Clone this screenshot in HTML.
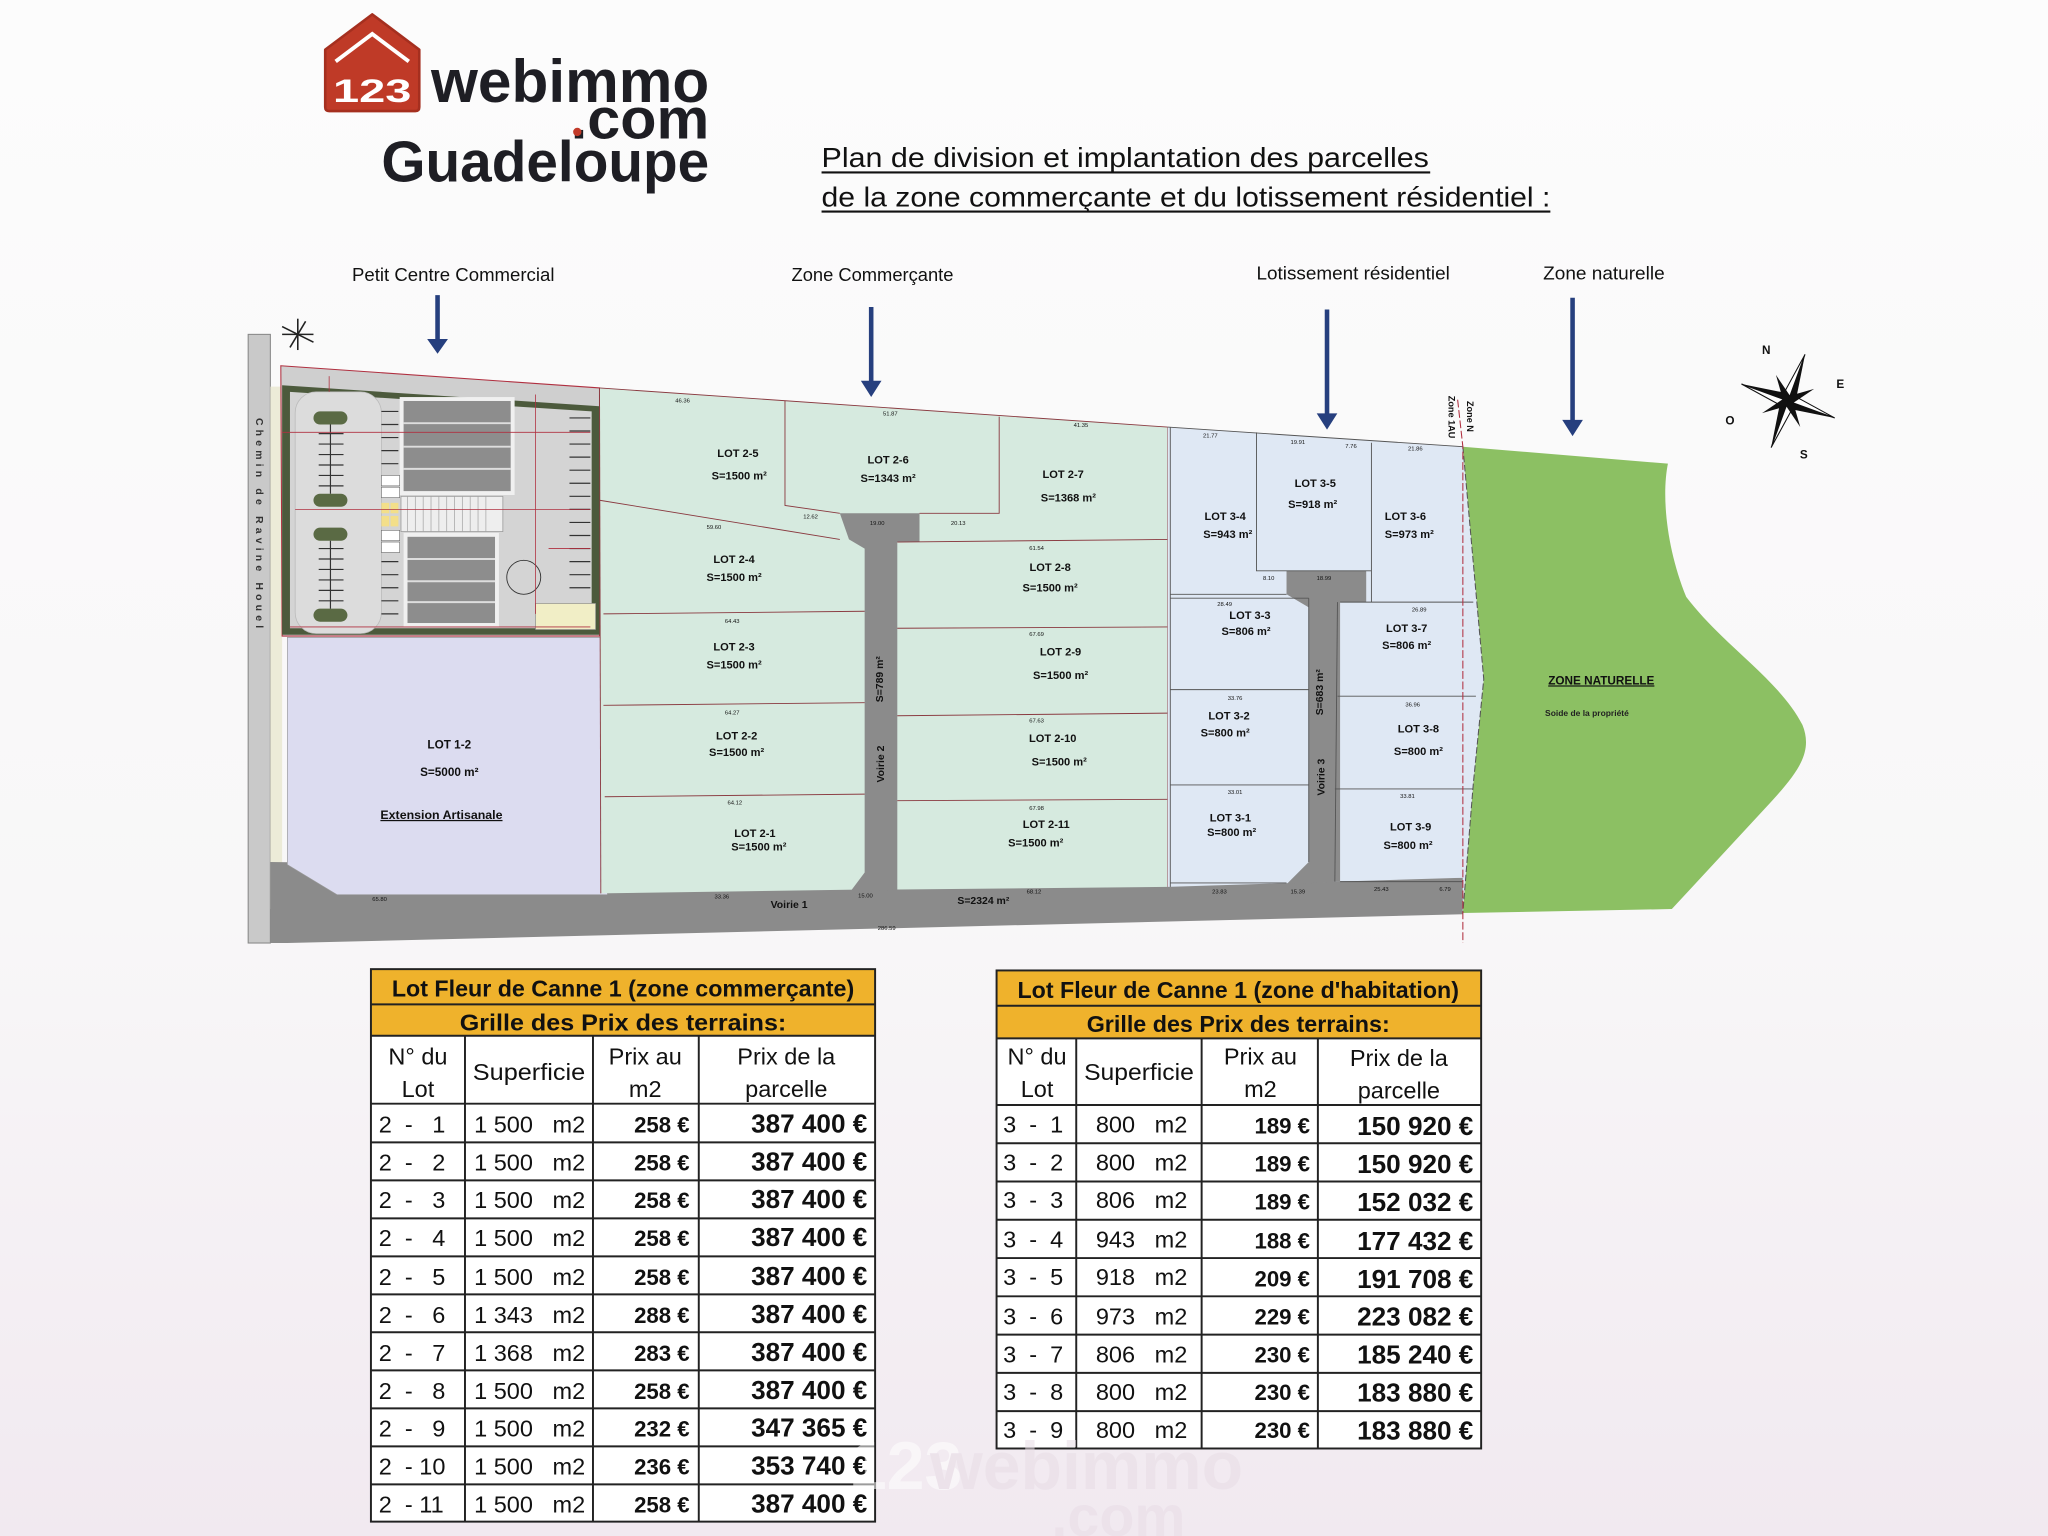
<!DOCTYPE html>
<html><head><meta charset="utf-8"><style>
html,body{margin:0;padding:0;width:2048px;height:1536px;overflow:hidden;background:#fbfbfb}
svg{display:block}
text{font-family:"Liberation Sans",sans-serif}
.pre text{white-space:pre}
</style></head><body>
<svg width="2048" height="1536" viewBox="0 0 1568 1176" xmlns="http://www.w3.org/2000/svg">
<defs>
<linearGradient id="bg" x1="0" y1="0" x2="0" y2="1">
<stop offset="0" stop-color="#fcfcfc"/><stop offset="0.6" stop-color="#f8f7f8"/><stop offset="1" stop-color="#f1e9f0"/>
</linearGradient>
</defs>
<rect width="1568" height="1176" fill="url(#bg)"/>

<!-- LOGO -->
<path d="M249,38 L285,11 L321,38 L321,82 Q321,85 318,85 L252,85 Q249,85 249,82 Z" fill="#bf3a27" stroke="#a52f1f" stroke-width="2" stroke-linejoin="round"/>
<path d="M257,47 L285,26 L313,47" fill="none" stroke="#fff" stroke-width="3"/>
<text x="255" y="78" font-size="25" font-weight="bold" fill="#fff" textLength="60" lengthAdjust="spacingAndGlyphs">123</text>
<text x="330" y="78" font-size="46" font-weight="bold" fill="#1e1e24" textLength="213" lengthAdjust="spacingAndGlyphs">webimmo</text>
<text x="437" y="106" font-size="44" font-weight="bold" fill="#1e1e24" textLength="106" lengthAdjust="spacingAndGlyphs">.com</text>
<circle cx="442" cy="101" r="3.2" fill="#c23a2a"/>
<text x="292" y="139" font-size="44" font-weight="bold" fill="#1e1e24" textLength="251" lengthAdjust="spacingAndGlyphs">Guadeloupe</text>

<!-- TITLE -->
<text x="629" y="128" font-size="21" fill="#111" textLength="465" lengthAdjust="spacingAndGlyphs">Plan de division et implantation des parcelles</text>
<line x1="629" y1="132" x2="1095" y2="132" stroke="#111" stroke-width="1.6"/>
<text x="629" y="158" font-size="21" fill="#111" textLength="558" lengthAdjust="spacingAndGlyphs">de la zone commerçante et du lotissement résidentiel :</text>
<line x1="629" y1="162" x2="1187" y2="162" stroke="#111" stroke-width="1.6"/>

<!-- zone labels & arrows -->
<g font-size="14" fill="#111">
<text x="347" y="215" text-anchor="middle" textLength="155" lengthAdjust="spacingAndGlyphs">Petit Centre Commercial</text>
<text x="668" y="215" text-anchor="middle" textLength="124" lengthAdjust="spacingAndGlyphs">Zone Commerçante</text>
<text x="1036" y="214" text-anchor="middle" textLength="148" lengthAdjust="spacingAndGlyphs">Lotissement résidentiel</text>
<text x="1228" y="214" text-anchor="middle" textLength="93" lengthAdjust="spacingAndGlyphs">Zone naturelle</text>
</g>
<g fill="#263f7e" stroke="#263f7e">
<line x1="335" y1="226" x2="335" y2="262" stroke-width="3.5"/><path d="M328,260 L342,260 L335,270Z"/>
<line x1="667" y1="235" x2="667" y2="294" stroke-width="3.5"/><path d="M660,292 L674,292 L667,303Z"/>
<line x1="1016" y1="237" x2="1016" y2="319" stroke-width="3.5"/><path d="M1009,317 L1023,317 L1016,328Z"/>
<line x1="1204" y1="228" x2="1204" y2="324" stroke-width="3.5"/><path d="M1197,322 L1211,322 L1204,333Z"/>
</g>

<!-- small star -->
<g stroke="#222" stroke-width="1.2"><line x1="216" y1="250" x2="240" y2="262"/><line x1="222" y1="266" x2="234" y2="246"/><line x1="228" y1="244" x2="228" y2="268"/><line x1="216" y1="256" x2="240" y2="256"/></g>

<!-- MAP -->
<rect x="190" y="256" width="17" height="466" fill="#c9c9c9" stroke="#888" stroke-width="0.8"/>
<rect x="207" y="296" width="9" height="400" fill="#ecebd8"/>
<text transform="translate(196,320) rotate(90)" font-size="8" font-weight="bold" fill="#333" letter-spacing="3.2">Chemin de Ravine Houel</text>

<path d="M207,660 L1120,672 L1120,700 L220,722 L207,722 Z" fill="#8b8b8b"/>
<text x="590" y="695" font-size="8" fill="#111" font-weight="bold">Voirie 1</text>
<text x="733" y="692" font-size="8" fill="#111" font-weight="bold">S=2324 m²</text>
<text x="672" y="712" font-size="4.5" fill="#111">286.59</text>

<!-- commercial center -->
<path d="M215,280 L459,297 L459,487 L216,487 Z" fill="#cfcfcf" stroke="#b03040" stroke-width="0.8"/>
<path d="M216,295 L459,311 L459,486 L216,486 Z" fill="#4c5a3c"/>
<path d="M222,300 L453,315 L453,481 L222,481 Z" fill="#d4d4d4"/>
<rect x="226" y="300" width="66" height="185" rx="16" fill="#dcdcdc" stroke="#bbb" stroke-width="0.6"/>
<rect x="240" y="315" width="26" height="10" rx="5" fill="#5a6a44"/><rect x="240" y="378" width="26" height="10" rx="5" fill="#5a6a44"/>
<rect x="240" y="404" width="26" height="10" rx="5" fill="#5a6a44"/><rect x="240" y="466" width="26" height="10" rx="5" fill="#5a6a44"/>
<g stroke="#333" stroke-width="0.9">
<line x1="253" y1="325" x2="253" y2="378"/><line x1="253" y1="414" x2="253" y2="466"/>
<line x1="244" y1="332" x2="263" y2="332"/><line x1="244" y1="340" x2="263" y2="340"/><line x1="244" y1="348" x2="263" y2="348"/><line x1="244" y1="356" x2="263" y2="356"/><line x1="244" y1="364" x2="263" y2="364"/><line x1="244" y1="372" x2="263" y2="372"/>
<line x1="244" y1="420" x2="263" y2="420"/><line x1="244" y1="428" x2="263" y2="428"/><line x1="244" y1="436" x2="263" y2="436"/><line x1="244" y1="444" x2="263" y2="444"/><line x1="244" y1="452" x2="263" y2="452"/><line x1="244" y1="460" x2="263" y2="460"/>
<line x1="292" y1="315" x2="305" y2="315"/><line x1="292" y1="325" x2="305" y2="325"/><line x1="292" y1="335" x2="305" y2="335"/><line x1="292" y1="345" x2="305" y2="345"/><line x1="292" y1="355" x2="305" y2="355"/><line x1="292" y1="365" x2="305" y2="365"/>
<line x1="292" y1="420" x2="305" y2="420"/><line x1="292" y1="430" x2="305" y2="430"/><line x1="292" y1="440" x2="305" y2="440"/><line x1="292" y1="450" x2="305" y2="450"/><line x1="292" y1="460" x2="305" y2="460"/><line x1="292" y1="470" x2="305" y2="470"/>
<line x1="436" y1="320" x2="452" y2="320"/><line x1="436" y1="330" x2="452" y2="330"/><line x1="436" y1="340" x2="452" y2="340"/><line x1="436" y1="350" x2="452" y2="350"/><line x1="436" y1="360" x2="452" y2="360"/><line x1="436" y1="370" x2="452" y2="370"/><line x1="436" y1="380" x2="452" y2="380"/><line x1="436" y1="390" x2="452" y2="390"/><line x1="436" y1="400" x2="452" y2="400"/><line x1="436" y1="410" x2="452" y2="410"/><line x1="436" y1="420" x2="452" y2="420"/><line x1="436" y1="430" x2="452" y2="430"/><line x1="436" y1="440" x2="452" y2="440"/><line x1="436" y1="450" x2="452" y2="450"/>
</g>
<rect x="306" y="304" width="88" height="75" fill="#f0f0f0"/>
<rect x="309" y="307" width="82" height="69" fill="#8d8d8d"/>
<g stroke="#ddd" stroke-width="1.5"><line x1="309" y1="324" x2="391" y2="324"/><line x1="309" y1="342" x2="391" y2="342"/><line x1="309" y1="359" x2="391" y2="359"/></g>
<rect x="307" y="380" width="78" height="27" fill="#eee" stroke="#999" stroke-width="0.6"/>
<g stroke="#aaa" stroke-width="0.6"><line x1="312" y1="380" x2="312" y2="407"/><line x1="318" y1="380" x2="318" y2="407"/><line x1="324" y1="380" x2="324" y2="407"/><line x1="330" y1="380" x2="330" y2="407"/><line x1="336" y1="380" x2="336" y2="407"/><line x1="342" y1="380" x2="342" y2="407"/><line x1="348" y1="380" x2="348" y2="407"/><line x1="354" y1="380" x2="354" y2="407"/><line x1="360" y1="380" x2="360" y2="407"/><line x1="366" y1="380" x2="366" y2="407"/><line x1="372" y1="380" x2="372" y2="407"/></g>
<rect x="309" y="408" width="73" height="72" fill="#f0f0f0"/>
<rect x="312" y="411" width="67" height="66" fill="#8d8d8d"/>
<g stroke="#ddd" stroke-width="1.5"><line x1="312" y1="428" x2="379" y2="428"/><line x1="312" y1="445" x2="379" y2="445"/><line x1="312" y1="461" x2="379" y2="461"/></g>
<g fill="#fff" stroke="#555" stroke-width="0.4"><rect x="292" y="364" width="14" height="8"/><rect x="292" y="373" width="14" height="8"/><rect x="292" y="406" width="14" height="8"/><rect x="292" y="415" width="14" height="8"/></g>
<g fill="#f3df8a"><rect x="292" y="385" width="6" height="8"/><rect x="299" y="385" width="6" height="8"/><rect x="292" y="395" width="6" height="8"/><rect x="299" y="395" width="6" height="8"/></g>
<circle cx="401" cy="442" r="13" fill="none" stroke="#333" stroke-width="0.7"/>
<rect x="410" y="462" width="46" height="20" fill="#f1eec6" stroke="#888" stroke-width="0.5"/>
<g stroke="#b03040" stroke-width="0.6" fill="none"><path d="M216,331 L452,331"/><path d="M226,390 L452,390"/><path d="M420,420 L452,420"/><path d="M222,480 L452,480"/><path d="M252,288 L252,300"/><path d="M410,302 L410,470"/></g>
<text x="328" y="493" font-size="4.5" fill="#111">76.35</text>

<!-- lot 1-2 -->
<path d="M220,488 L465,488 L465,685 L258,685 L220,662 Z" fill="#dcdcf0" stroke="#999" stroke-width="0.5"/>
<g font-size="9" font-weight="bold" fill="#111" text-anchor="middle">
<text x="344" y="573">LOT 1-2</text>
<text x="344" y="594">S=5000 m²</text>
<text x="338" y="627" text-decoration="underline" font-size="9.5">Extension Artisanale</text>
</g>

<!-- green commercial zone -->
<path d="M459,297 L894,327 L894,679 L688,681 L662,681 L460,684 Z" fill="#d6eadf"/>
<path d="M643,393 L704,393 L704,415 L687,415 L687,681 L650,684 L662,668 L662,420 L650,413 Z" fill="#8b8b8b"/>
<g stroke="#8a3a40" stroke-width="0.7" fill="none">
<path d="M459,297 L894,327"/>
<path d="M601,307 L601,387 L643,393"/>
<path d="M765,319 L765,393 L704,393"/>
<path d="M459,383 L643,413"/>
<path d="M462,470 L662,468"/><path d="M462,540 L662,538"/><path d="M463,610 L662,608"/>
<path d="M687,415 L894,413"/><path d="M687,481 L894,480"/><path d="M687,548 L894,546"/><path d="M687,613 L894,612"/>
<path d="M459,297 L460,684"/><path d="M894,327 L894,679"/>
</g>
<g font-size="8.5" font-weight="bold" fill="#111" text-anchor="middle">
<text x="565" y="350">LOT 2-5</text><text x="566" y="367">S=1500 m²</text>
<text x="680" y="355">LOT 2-6</text><text x="680" y="369">S=1343 m²</text>
<text x="814" y="366">LOT 2-7</text><text x="818" y="384">S=1368 m²</text>
<text x="562" y="431">LOT 2-4</text><text x="562" y="445">S=1500 m²</text>
<text x="804" y="437">LOT 2-8</text><text x="804" y="453">S=1500 m²</text>
<text x="562" y="498">LOT 2-3</text><text x="562" y="512">S=1500 m²</text>
<text x="812" y="502">LOT 2-9</text><text x="812" y="520">S=1500 m²</text>
<text x="564" y="566">LOT 2-2</text><text x="564" y="579">S=1500 m²</text>
<text x="806" y="568">LOT 2-10</text><text x="811" y="586">S=1500 m²</text>
<text x="578" y="641">LOT 2-1</text><text x="581" y="651">S=1500 m²</text>
<text x="801" y="634">LOT 2-11</text><text x="793" y="648">S=1500 m²</text>
</g>
<text transform="translate(676,520) rotate(-90)" font-size="8" font-weight="bold" fill="#111" text-anchor="middle">S=789 m²</text>
<text transform="translate(677,585) rotate(-90)" font-size="8" font-weight="bold" fill="#111" text-anchor="middle">Voirie 2</text>
<g font-size="4.5" fill="#111">
<text x="517" y="308">46.36</text><text x="676" y="318">51.87</text><text x="822" y="327">41.35</text><text x="541" y="405">59.60</text>
<text x="555" y="477">64.43</text><text x="555" y="547">64.27</text><text x="557" y="616">64.12</text><text x="788" y="421">61.54</text><text x="788" y="487">67.69</text><text x="788" y="553">67.63</text><text x="788" y="620">67.98</text>
<text x="666" y="402">19.00</text><text x="728" y="402">20.13</text><text x="615" y="397">12.62</text><text x="285" y="690">65.80</text><text x="547" y="688">33.36</text><text x="657" y="687">15.00</text><text x="786" y="684">68.12</text>
</g>

<!-- residential blue zone -->
<path d="M894,327 L1120,342 L1136,520 L1128,600 L1120,699 L1120,672 L894,679 Z" fill="#dfe8f4"/>
<path d="M985,437 L1046,437 L1046,461 L1026,461 L1026,675 L985,677 L1002,660 L1002,465 L985,455 Z" fill="#8b8b8b"/>
<g stroke="#555" stroke-width="0.7" fill="none">
<path d="M894,327 L1120,342"/>
<path d="M962,331 L962,437 L1050,437"/>
<path d="M1050,339 L1050,461"/>
<path d="M896,455 L985,455"/>
<path d="M896,458 L1002,458"/><path d="M896,528 L1002,528"/><path d="M896,601 L1002,601"/><path d="M896,676 L985,676"/>
<path d="M1026,461 L1128,461"/><path d="M1024,533 L1130,533"/><path d="M1022,604 L1128,604"/><path d="M1026,675 L1120,675"/>
<path d="M896,327 L896,679"/><path d="M1002,458 L1002,660"/><path d="M1024,461 L1022,675"/>
</g>
<g font-size="8.5" font-weight="bold" fill="#111" text-anchor="middle">
<text x="938" y="398">LOT 3-4</text><text x="940" y="412">S=943 m²</text>
<text x="1007" y="373">LOT 3-5</text><text x="1005" y="389">S=918 m²</text>
<text x="1076" y="398">LOT 3-6</text><text x="1079" y="412">S=973 m²</text>
<text x="957" y="474">LOT 3-3</text><text x="954" y="486">S=806 m²</text>
<text x="1077" y="484">LOT 3-7</text><text x="1077" y="497">S=806 m²</text>
<text x="941" y="551">LOT 3-2</text><text x="938" y="564">S=800 m²</text>
<text x="1086" y="561">LOT 3-8</text><text x="1086" y="578">S=800 m²</text>
<text x="942" y="629">LOT 3-1</text><text x="943" y="640">S=800 m²</text>
<text x="1080" y="636">LOT 3-9</text><text x="1078" y="650">S=800 m²</text>
</g>
<text transform="translate(1013,530) rotate(-90)" font-size="8" font-weight="bold" fill="#111" text-anchor="middle">S=683 m²</text>
<text transform="translate(1014,595) rotate(-90)" font-size="8" font-weight="bold" fill="#111" text-anchor="middle">Voirie 3</text>
<g font-size="4.5" fill="#111">
<text x="921" y="335">21.77</text><text x="988" y="340">19.91</text><text x="1030" y="343">7.76</text><text x="1078" y="345">21.86</text>
<text x="967" y="444">8.10</text><text x="1008" y="444">18.99</text><text x="932" y="464">28.49</text><text x="1081" y="468">26.89</text>
<text x="940" y="536">33.76</text><text x="1076" y="541">36.96</text><text x="940" y="608">33.01</text><text x="1072" y="611">33.81</text>
<text x="928" y="684">23.83</text><text x="988" y="684">15.39</text><text x="1052" y="682">25.43</text><text x="1102" y="682">6.79</text>
</g>

<!-- zone naturelle -->
<path d="M1120,342 L1277,355 C1272,380 1276,420 1291,457 C1320,495 1362,520 1380,555 C1388,575 1378,590 1355,615 L1280,696 L1120,699 L1128,600 L1136,520 Z" fill="#8cc063"/>
<path d="M1120,342 L1136,520 L1128,600 L1120,699" fill="none" stroke="#555" stroke-width="0.8" stroke-dasharray="5,2"/>
<path d="M1116,306 L1120,342 L1120,722" fill="none" stroke="#b03040" stroke-width="0.8" stroke-dasharray="6,2"/>
<text transform="translate(1109,303) rotate(90)" font-size="7" font-weight="bold" fill="#111">Zone 1AU</text>
<text transform="translate(1123,307) rotate(90)" font-size="7" font-weight="bold" fill="#111">Zone N</text>
<text x="1226" y="524" font-size="9" font-weight="bold" fill="#111" text-anchor="middle" text-decoration="underline">ZONE NATURELLE</text>
<text x="1215" y="548" font-size="6.5" font-weight="bold" fill="#222" text-anchor="middle">Soide de la propriété</text>

<!-- compass -->
<g transform="translate(1369,307)">
<g transform="rotate(20)">
<path d="M0,-38 L5,-5 L0,0Z" fill="#111"/><path d="M0,-38 L-5,-5 L0,0Z" fill="#fff" stroke="#111" stroke-width="0.8"/>
<path d="M0,38 L-5,5 L0,0Z" fill="#111"/><path d="M0,38 L5,5 L0,0Z" fill="#fff" stroke="#111" stroke-width="0.8"/>
<path d="M38,0 L5,5 L0,0Z" fill="#111"/><path d="M38,0 L5,-5 L0,0Z" fill="#fff" stroke="#111" stroke-width="0.8"/>
<path d="M-38,0 L-5,-5 L0,0Z" fill="#111"/><path d="M-38,0 L-5,5 L0,0Z" fill="#fff" stroke="#111" stroke-width="0.8"/>
<g transform="rotate(45)"><path d="M0,-22 L3,-3 L0,0 L-3,-3Z" fill="#111"/><path d="M0,22 L3,3 L0,0 L-3,3Z" fill="#111"/><path d="M22,0 L3,3 L0,0 L3,-3Z" fill="#111"/><path d="M-22,0 L-3,3 L0,0 L-3,-3Z" fill="#111"/></g>
</g>
</g>
<g font-size="9" font-weight="bold" fill="#111"><text x="1349" y="271">N</text><text x="1406" y="297">E</text><text x="1378" y="351">S</text><text x="1321" y="325">O</text></g>

<!-- TABLE 1 -->
<g fill="#111">
<rect x="284" y="742" width="386" height="51" fill="#efb22c"/>
<rect x="284" y="793" width="386" height="372" fill="#fff"/>
<g stroke="#222" stroke-width="1.5" fill="none">
<rect x="284" y="742" width="386" height="423"/>
<line x1="284" y1="769" x2="670" y2="769"/><line x1="284" y1="793" x2="670" y2="793"/><line x1="284" y1="845" x2="670" y2="845"/>
<line x1="356" y1="793" x2="356" y2="1165"/><line x1="454" y1="793" x2="454" y2="1165"/><line x1="535" y1="793" x2="535" y2="1165"/>
<line x1="284" y1="874.6" x2="670" y2="874.6"/><line x1="284" y1="903.7" x2="670" y2="903.7"/><line x1="284" y1="932.8" x2="670" y2="932.8"/><line x1="284" y1="961.9" x2="670" y2="961.9"/><line x1="284" y1="991" x2="670" y2="991"/><line x1="284" y1="1020" x2="670" y2="1020"/><line x1="284" y1="1049.2" x2="670" y2="1049.2"/><line x1="284" y1="1078.3" x2="670" y2="1078.3"/><line x1="284" y1="1107.4" x2="670" y2="1107.4"/><line x1="284" y1="1136.5" x2="670" y2="1136.5"/>
</g>
<text x="477" y="763" font-size="18" font-weight="bold" text-anchor="middle" textLength="354" lengthAdjust="spacingAndGlyphs">Lot Fleur de Canne 1 (zone commerçante)</text>
<text x="477" y="789" font-size="18" font-weight="bold" text-anchor="middle" textLength="250" lengthAdjust="spacingAndGlyphs">Grille des Prix des terrains:</text>
<g font-size="18" text-anchor="middle">
<text x="320" y="815">N° du</text><text x="320" y="840">Lot</text>
<text x="405" y="827" textLength="86" lengthAdjust="spacingAndGlyphs">Superficie</text>
<text x="494" y="815">Prix au</text><text x="494" y="840">m2</text>
<text x="602" y="815">Prix de la</text><text x="602" y="840">parcelle</text>
</g>
<g font-size="18" class="pre">
<text x="290" y="867">2  -   1</text><text x="363" y="867">1 500   m2</text><text x="528" y="867" text-anchor="end" font-weight="bold" font-size="17">258 €</text><text x="664" y="867" text-anchor="end" font-weight="bold" font-size="20">387 400 €</text>
<text x="290" y="896">2  -   2</text><text x="363" y="896">1 500   m2</text><text x="528" y="896" text-anchor="end" font-weight="bold" font-size="17">258 €</text><text x="664" y="896" text-anchor="end" font-weight="bold" font-size="20">387 400 €</text>
<text x="290" y="925">2  -   3</text><text x="363" y="925">1 500   m2</text><text x="528" y="925" text-anchor="end" font-weight="bold" font-size="17">258 €</text><text x="664" y="925" text-anchor="end" font-weight="bold" font-size="20">387 400 €</text>
<text x="290" y="954">2  -   4</text><text x="363" y="954">1 500   m2</text><text x="528" y="954" text-anchor="end" font-weight="bold" font-size="17">258 €</text><text x="664" y="954" text-anchor="end" font-weight="bold" font-size="20">387 400 €</text>
<text x="290" y="984">2  -   5</text><text x="363" y="984">1 500   m2</text><text x="528" y="984" text-anchor="end" font-weight="bold" font-size="17">258 €</text><text x="664" y="984" text-anchor="end" font-weight="bold" font-size="20">387 400 €</text>
<text x="290" y="1013">2  -   6</text><text x="363" y="1013">1 343   m2</text><text x="528" y="1013" text-anchor="end" font-weight="bold" font-size="17">288 €</text><text x="664" y="1013" text-anchor="end" font-weight="bold" font-size="20">387 400 €</text>
<text x="290" y="1042">2  -   7</text><text x="363" y="1042">1 368   m2</text><text x="528" y="1042" text-anchor="end" font-weight="bold" font-size="17">283 €</text><text x="664" y="1042" text-anchor="end" font-weight="bold" font-size="20">387 400 €</text>
<text x="290" y="1071">2  -   8</text><text x="363" y="1071">1 500   m2</text><text x="528" y="1071" text-anchor="end" font-weight="bold" font-size="17">258 €</text><text x="664" y="1071" text-anchor="end" font-weight="bold" font-size="20">387 400 €</text>
<text x="290" y="1100">2  -   9</text><text x="363" y="1100">1 500   m2</text><text x="528" y="1100" text-anchor="end" font-weight="bold" font-size="17">232 €</text><text x="664" y="1100" text-anchor="end" font-weight="bold" font-size="20">347 365 €</text>
<text x="290" y="1129">2  - 10</text><text x="363" y="1129">1 500   m2</text><text x="528" y="1129" text-anchor="end" font-weight="bold" font-size="17">236 €</text><text x="664" y="1129" text-anchor="end" font-weight="bold" font-size="20">353 740 €</text>
<text x="290" y="1158">2  - 11</text><text x="363" y="1158">1 500   m2</text><text x="528" y="1158" text-anchor="end" font-weight="bold" font-size="17">258 €</text><text x="664" y="1158" text-anchor="end" font-weight="bold" font-size="20">387 400 €</text>
</g>
</g>

<!-- TABLE 2 -->
<g fill="#111">
<rect x="763" y="743" width="371" height="52" fill="#efb22c"/>
<rect x="763" y="795" width="371" height="314" fill="#fff"/>
<g stroke="#222" stroke-width="1.5" fill="none">
<rect x="763" y="743" width="371" height="366"/>
<line x1="763" y1="770" x2="1134" y2="770"/><line x1="763" y1="795" x2="1134" y2="795"/><line x1="763" y1="846" x2="1134" y2="846"/>
<line x1="824" y1="795" x2="824" y2="1109"/><line x1="920" y1="795" x2="920" y2="1109"/><line x1="1009" y1="795" x2="1009" y2="1109"/>
<line x1="763" y1="875.3" x2="1134" y2="875.3"/><line x1="763" y1="904.6" x2="1134" y2="904.6"/><line x1="763" y1="933.9" x2="1134" y2="933.9"/><line x1="763" y1="963.2" x2="1134" y2="963.2"/><line x1="763" y1="992.5" x2="1134" y2="992.5"/><line x1="763" y1="1021.8" x2="1134" y2="1021.8"/><line x1="763" y1="1051.1" x2="1134" y2="1051.1"/><line x1="763" y1="1080.4" x2="1134" y2="1080.4"/>
</g>
<text x="948" y="764" font-size="18" font-weight="bold" text-anchor="middle" textLength="338" lengthAdjust="spacingAndGlyphs">Lot Fleur de Canne 1 (zone d'habitation)</text>
<text x="948" y="790" font-size="18" font-weight="bold" text-anchor="middle" textLength="232" lengthAdjust="spacingAndGlyphs">Grille des Prix  des terrains:</text>
<g font-size="18" text-anchor="middle">
<text x="794" y="815">N° du</text><text x="794" y="840">Lot</text>
<text x="872" y="827" textLength="84" lengthAdjust="spacingAndGlyphs">Superficie</text>
<text x="965" y="815">Prix au</text><text x="965" y="840">m2</text>
<text x="1071" y="816">Prix de la</text><text x="1071" y="841">parcelle</text>
</g>
<g font-size="18" class="pre">
<text x="768" y="867">3  -  1</text><text x="839" y="867">800   m2</text><text x="1003" y="868" text-anchor="end" font-weight="bold" font-size="17">189 €</text><text x="1128" y="869" text-anchor="end" font-weight="bold" font-size="20">150 920 €</text>
<text x="768" y="896">3  -  2</text><text x="839" y="896">800   m2</text><text x="1003" y="897" text-anchor="end" font-weight="bold" font-size="17">189 €</text><text x="1128" y="898" text-anchor="end" font-weight="bold" font-size="20">150 920 €</text>
<text x="768" y="925">3  -  3</text><text x="839" y="925">806   m2</text><text x="1003" y="926" text-anchor="end" font-weight="bold" font-size="17">189 €</text><text x="1128" y="927" text-anchor="end" font-weight="bold" font-size="20">152 032 €</text>
<text x="768" y="955">3  -  4</text><text x="839" y="955">943   m2</text><text x="1003" y="956" text-anchor="end" font-weight="bold" font-size="17">188 €</text><text x="1128" y="957" text-anchor="end" font-weight="bold" font-size="20">177 432 €</text>
<text x="768" y="984">3  -  5</text><text x="839" y="984">918   m2</text><text x="1003" y="985" text-anchor="end" font-weight="bold" font-size="17">209 €</text><text x="1128" y="986" text-anchor="end" font-weight="bold" font-size="20">191 708 €</text>
<text x="768" y="1014">3  -  6</text><text x="839" y="1014">973   m2</text><text x="1003" y="1014" text-anchor="end" font-weight="bold" font-size="17">229 €</text><text x="1128" y="1015" text-anchor="end" font-weight="bold" font-size="20">223 082 €</text>
<text x="768" y="1043">3  -  7</text><text x="839" y="1043">806   m2</text><text x="1003" y="1043" text-anchor="end" font-weight="bold" font-size="17">230 €</text><text x="1128" y="1044" text-anchor="end" font-weight="bold" font-size="20">185 240 €</text>
<text x="768" y="1072">3  -  8</text><text x="839" y="1072">800   m2</text><text x="1003" y="1072" text-anchor="end" font-weight="bold" font-size="17">230 €</text><text x="1128" y="1073" text-anchor="end" font-weight="bold" font-size="20">183 880 €</text>
<text x="768" y="1101">3  -  9</text><text x="839" y="1101">800   m2</text><text x="1003" y="1101" text-anchor="end" font-weight="bold" font-size="17">230 €</text><text x="1128" y="1102" text-anchor="end" font-weight="bold" font-size="20">183 880 €</text>
</g>
</g>

<!-- watermark -->
<g opacity="0.55">
<text x="650" y="1140" font-size="52" font-weight="bold" fill="#ffffff">123</text>
<text x="712" y="1140" font-size="52" font-weight="bold" fill="#e8dde6">webimmo</text>
<text x="805" y="1176" font-size="44" font-weight="bold" fill="#e8dde6">.com</text>
</g>
</svg>
</body></html>
